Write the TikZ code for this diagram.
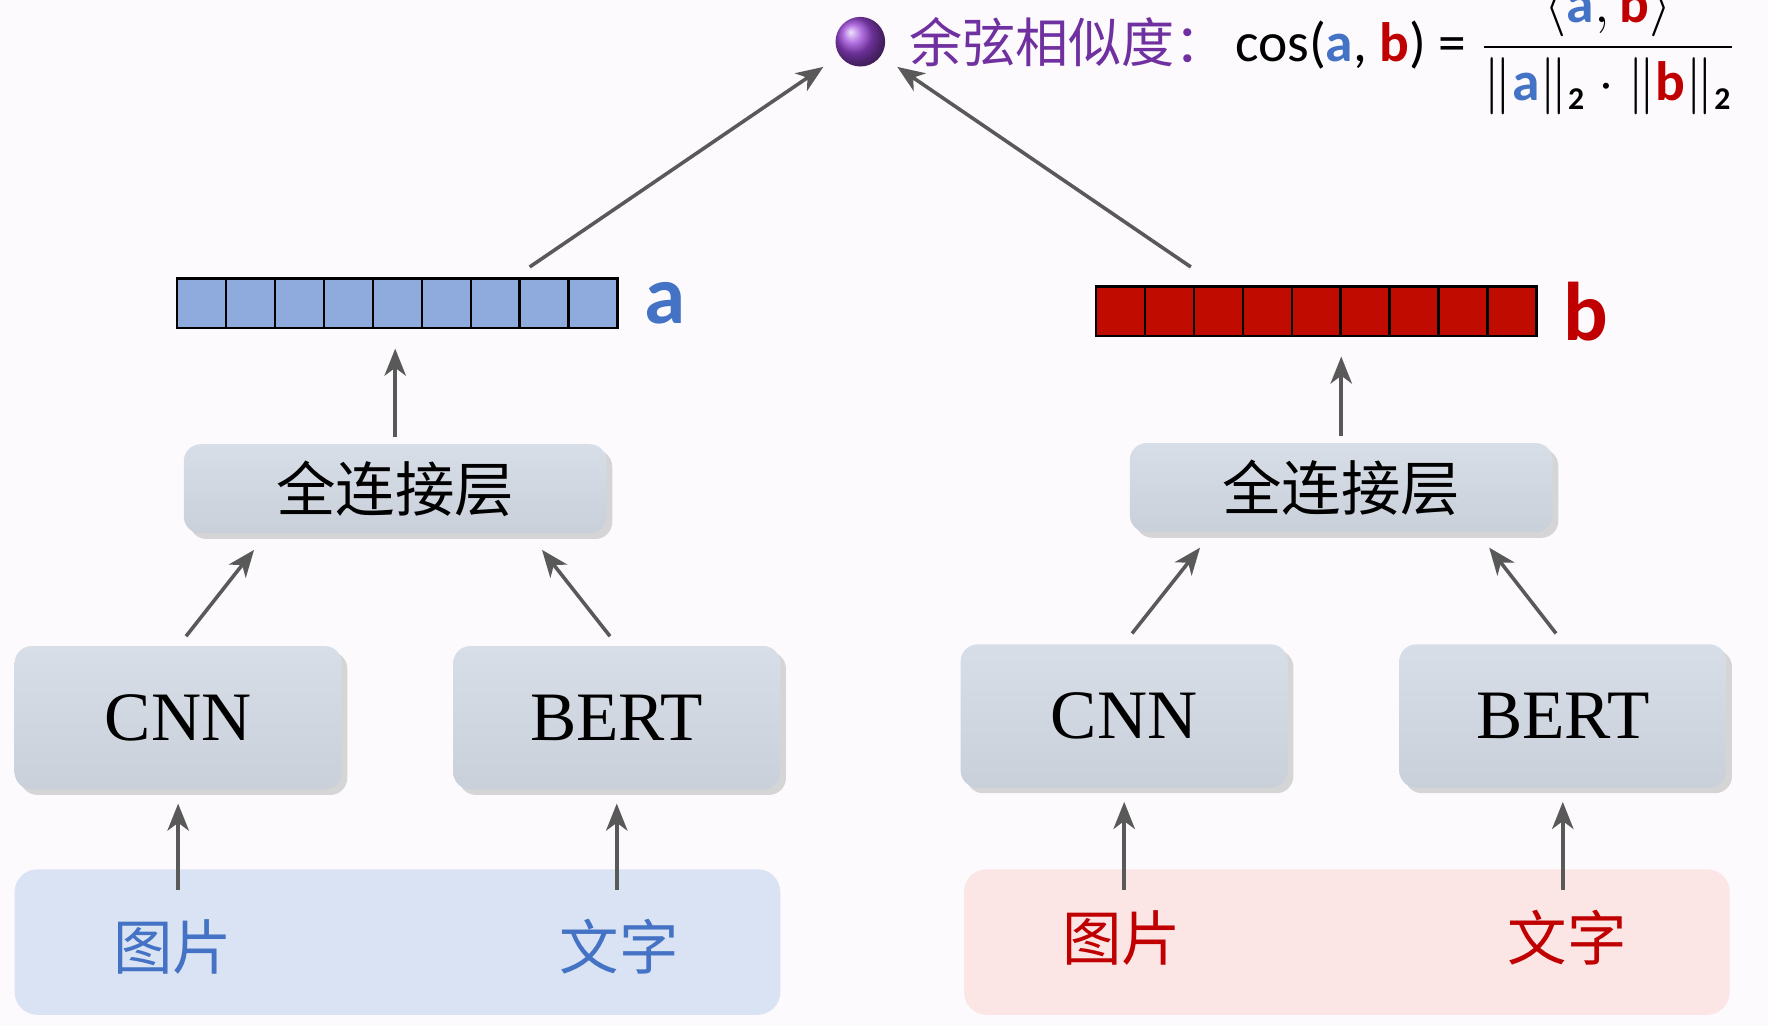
\documentclass[tikz,border=0pt]{standalone}
\usepackage{amsmath}
\usepackage{fontspec}
\setmainfont{Liberation Serif}
\newfontfamily\carlito{Carlito}
\newfontfamily\cjk{Noto Sans CJK SC}
\usetikzlibrary{arrows.meta, positioning, shadows}

\definecolor{bgpage}{HTML}{FCFAFC}
\definecolor{cblue}{HTML}{4472C4}
\definecolor{cred}{HTML}{C00000}
\definecolor{vecblue}{HTML}{8FAADC}
\definecolor{vecred}{HTML}{C00C00}
\definecolor{cpurple}{HTML}{7030A0}
\definecolor{ballpurple}{HTML}{9A45D8}
\definecolor{boxtop}{HTML}{D8DEE7}
\definecolor{boxbot}{HTML}{C9D0DA}
\definecolor{panelblue}{HTML}{DAE3F3}
\definecolor{panelred}{HTML}{FBE5E5}
\definecolor{arrowgray}{HTML}{595959}

\newcommand{\va}{\textcolor{cblue}{\textbf{a}}}
\newcommand{\vb}{\textcolor{cred}{\textbf{b}}}
\newcommand{\normsub}{_{\mbox{\footnotesize\bfseries 2}}}

\begin{document}
\begin{tikzpicture}[
    model/.style={rectangle, rounded corners=0.15cm, top color=boxtop, bottom color=boxbot,
        minimum width=2.9cm, minimum height=1.27cm, font=\fontsize{17.5}{20}\selectfont,
        drop shadow={shadow xshift=0.05cm, shadow yshift=-0.05cm, opacity=0.3}},
    fc/.style={model, minimum width=3.75cm, minimum height=0.79cm, font=\cjk\fontsize{15}{18}\selectfont},
    panel/.style={rectangle, rounded corners=0.2cm, minimum width=6.79cm, minimum height=1.29cm},
    cell/.style={rectangle, draw=black, line width=0.7pt, minimum width=0.4344cm, minimum height=0.44cm, inner sep=0pt},
    word/.style={font=\cjk\fontsize{15}{18}\selectfont},
    vlabel/.style={font=\carlito\bfseries\fontsize{21}{24}\selectfont, inner sep=0pt},
    arrow/.style={-{Stealth[length=2.4mm, width=1.9mm, inset=0.7mm]}, line width=0.9pt, arrowgray}]

    % Page
    \fill[bgpage] (0,0) rectangle (15.68,9.10);
    \useasboundingbox (0,0) rectangle (15.68,9.10);

    % Input panels
    \node[panel, fill=panelblue] (inA) at (3.525,0.745) {};
    \node[panel, fill=panelred] (inB) at (11.945,0.745) {};
    \node[word, text=cblue] (imgA) at (1.53,0.70) {图片};
    \node[word, text=cblue] (txtA) at (5.49,0.70) {文字};
    \node[word, text=cred] (imgB) at (9.95,0.78) {图片};
    \node[word, text=cred] (txtB) at (13.90,0.78) {文字};

    % Encoders
    \node[model] (cnnA) at (1.58,2.735) {CNN};
    \node[model] (bertA) at (5.47,2.735) {BERT};
    \node[model] (cnnB) at (9.97,2.75) {CNN};
    \node[model] (bertB) at (13.86,2.75) {BERT};

    % Fully connected layers
    \node[fc] (fcA) at (3.505,4.765) {全连接层};
    \node[fc] (fcB) at (11.895,4.775) {全连接层};

    % Vectors
    \foreach \i in {0,...,8} {
        \node[cell, fill=vecblue] (a\i) at ({1.787+0.4344*\i},6.41) {};
        \node[cell, fill=vecred] (b\i) at ({9.937+0.4344*\i},6.34) {};
    }
    \node[vlabel, text=cblue, right=0.22cm of a8] (labA) {a};
    \node[vlabel, text=cred, right=0.22cm of b8] (labB) {b};

    % Similarity
    \node[circle, minimum size=0.44cm, inner sep=0pt, shade, ball color=ballpurple] (ball) at (7.63,8.73) {};
    \node[right=0.2cm of ball, inner sep=0pt, text=cpurple, font=\cjk\fontsize{13.4}{16}\selectfont] (title) {余弦相似度：};
    \node[right=0.05cm of title, yshift=-0.05cm, inner sep=0pt, anchor=west, font=\carlito\fontsize{14}{17}\selectfont] (cosf)
        {cos(\va, \vb) = $\dfrac{\langle\va,\vb\rangle}{\|\va\|\normsub\cdot\|\vb\|\normsub}$};

    % Arrows
    \draw[arrow] ([yshift=-0.19cm]inA.north -| cnnA.south) -- ([yshift=-0.12cm]cnnA.south);
    \draw[arrow] ([yshift=-0.19cm]inA.north -| bertA.south) -- ([yshift=-0.12cm]bertA.south);
    \draw[arrow] ([yshift=-0.19cm]inB.north -| cnnB.south) -- ([yshift=-0.12cm]cnnB.south);
    \draw[arrow] ([yshift=-0.19cm]inB.north -| bertB.south) -- ([yshift=-0.12cm]bertB.south);
    \draw[arrow] ([xshift=0.07cm,yshift=0.08cm]cnnA.north) -- ([xshift=0.63cm,yshift=-0.14cm]fcA.south west);
    \draw[arrow] ([xshift=-0.06cm,yshift=0.08cm]bertA.north) -- ([xshift=-0.58cm,yshift=-0.14cm]fcA.south east);
    \draw[arrow] ([xshift=0.07cm,yshift=0.09cm]cnnB.north) -- ([xshift=0.63cm,yshift=-0.13cm]fcB.south west);
    \draw[arrow] ([xshift=-0.06cm,yshift=0.09cm]bertB.north) -- ([xshift=-0.57cm,yshift=-0.13cm]fcB.south east);
    \draw[arrow, shorten <=0.06cm, shorten >=0.17cm] (fcA.north) -- (fcA.north |- a4.south);
    \draw[arrow, shorten <=0.06cm, shorten >=0.17cm] (fcB.north) -- (fcB.north |- b4.south);
    \draw[arrow, shorten >=0.17cm] ([xshift=-0.13cm,yshift=0.09cm]a7.north) -- (ball);
    \draw[arrow, shorten >=0.17cm] ([xshift=-0.04cm,yshift=0.16cm]b1.north east) -- (ball);

\end{tikzpicture}
\end{document}
